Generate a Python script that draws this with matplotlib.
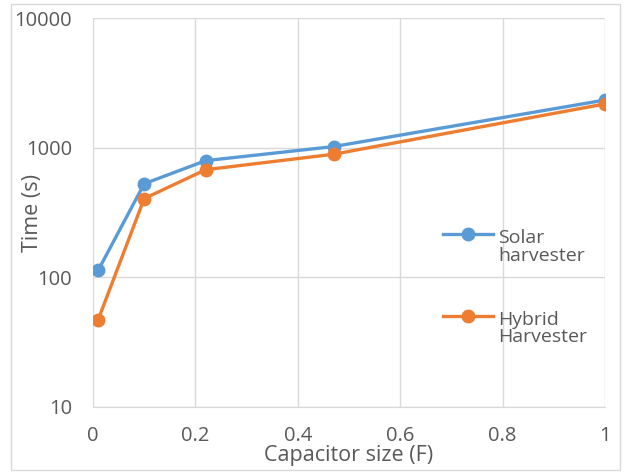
import matplotlib.pyplot as plt
from matplotlib.patches import Rectangle
from matplotlib.transforms import Affine2D

# capacitor sizes (F)
cap = [0.01, 0.1, 0.22, 0.47, 1.0]
# charging time (s)
solar = [113, 527, 794, 1020, 2330]
hybrid = [47, 405, 676, 890, 2175]

labels = ['Solar\nharvester', 'Hybrid\nHarvester']
xticks = [0, 0.2, 0.4, 0.6, 0.8, 1]
xticklabels = ['0', '0.2', '0.4', '0.6', '0.8', '1']
yticks = [10, 100, 1000, 10000]

plt.rcParams['font.family'] = ['Open Sans', 'DejaVu Sans']
txt = '#595959'
grid = '#d9d9d9'

fig = plt.figure(figsize=(6.31, 4.74), dpi=100)
ax = fig.add_axes([93/631, 1-407/474, 512/631, 389/474])

ax.plot(cap, solar, color='#5b9bd5', lw=2.4, marker='o', ms=9, label=labels[0])
ax.plot(cap, hybrid, color='#ed7d31', lw=2.4, marker='o', ms=9, label=labels[1])

ax.set_yscale('log')
ax.set_ylim(10, 10000)
ax.set_xlim(0, 1)
ax.set_xticks(xticks)
ax.set_xticklabels(xticklabels)
ax.set_yticks(yticks)
ax.set_yticklabels([str(v) for v in yticks])
ax.minorticks_off()
ax.grid(True, color=grid, lw=1)
ax.set_axisbelow(True)
for s in ax.spines.values():
    s.set_visible(False)
ax.spines['bottom'].set_visible(True)
ax.spines['bottom'].set_color(grid)
ax.tick_params(axis='y', length=0, pad=15, labelsize=14.5, labelcolor=txt)
ax.tick_params(axis='x', length=0, pad=14, labelsize=14.5, labelcolor=txt)

ax.set_xlabel('Capacitor size (F)', fontsize=15.5, color=txt)
ax.set_ylabel('Time (s)', fontsize=15.5, color=txt)
ax.xaxis.set_label_coords(0.499, -0.098)
ax.yaxis.set_label_coords(-0.098, 0.5)

leg = ax.legend(loc='upper left', bbox_to_anchor=(0.649, 0.502), frameon=False,
                fontsize=14, handlelength=2.6, labelspacing=2.4,
                handletextpad=0.25, labelcolor=txt)
for t in leg.get_texts():
    t.set_linespacing(0.95)
# put the legend marker next to the first line of each label
for col in leg._legend_handle_box.get_children():
    for row in col.get_children():
        da = row.get_children()[0]
        for a in da.get_children():
            a.set_transform(da.get_transform() + Affine2D().translate(0, 13))

fig.patches.append(Rectangle((11/631, 4/474), 609/631, 466/474, transform=fig.transFigure,
                             fill=False, edgecolor=grid, lw=1))

fig.savefig('out.png', dpi=100)
